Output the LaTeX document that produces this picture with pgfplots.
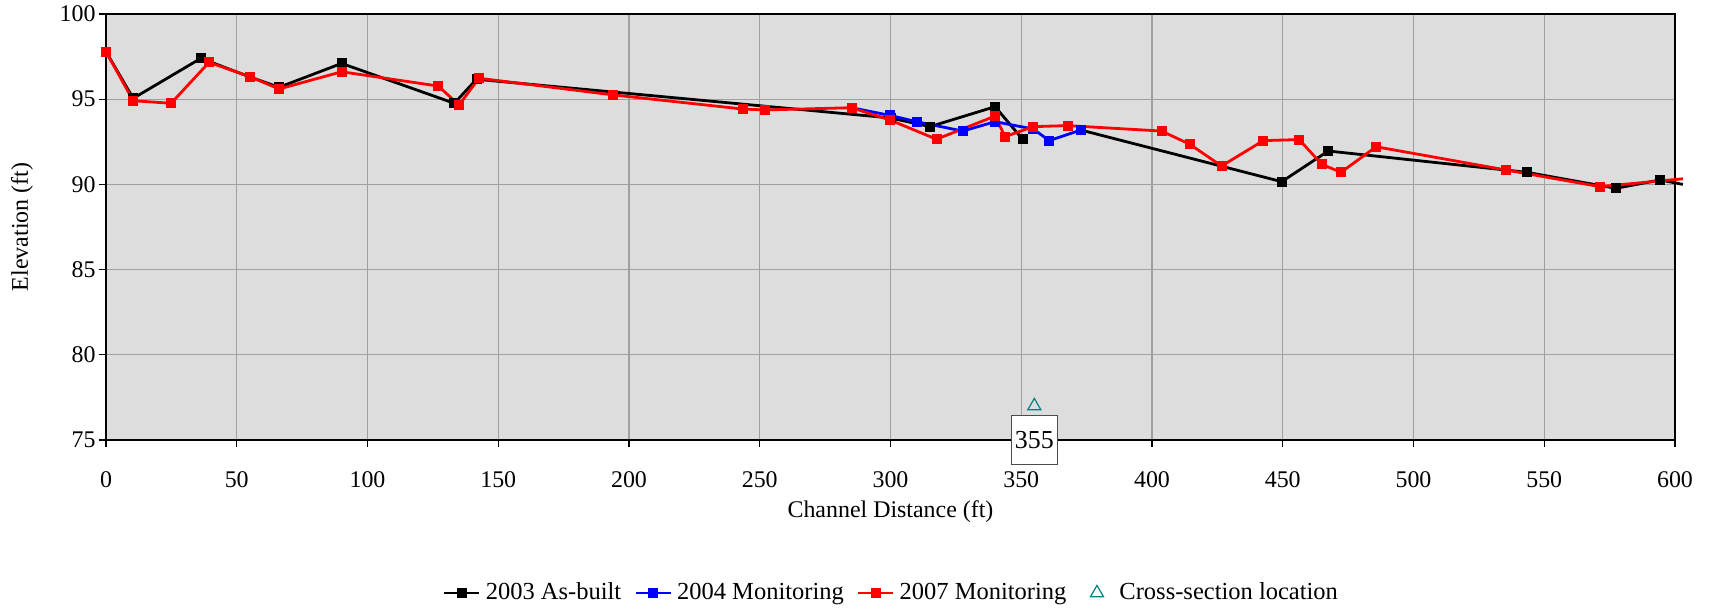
\documentclass[border=0pt]{standalone}
\usepackage{pgfplots}
\pgfplotsset{compat=1.18}
\usepackage{fontspec}
\setmainfont{Liberation Serif}
\definecolor{bggray}{RGB}{221,221,221}
\definecolor{gridgray}{RGB}{160,160,160}
\definecolor{tealc}{RGB}{0,128,128}
\begin{document}
\begin{tikzpicture}
\begin{axis}[
  at={(0,0)}, anchor=south west,
  scale only axis, width=784.5bp, height=213bp,
  xmin=0, xmax=600, ymin=75, ymax=100,
  xtick={0,50,...,600}, ytick={75,80,...,100},
  tick pos=left,
  grid=major, major grid style={gridgray, line width=0.6bp},
  axis background/.style={fill=bggray},
  tick align=outside, major tick length=3.5bp,
  tick style={black, line width=0.6bp},
  axis line style={black, line width=0.8bp},
  /pgf/number format/assume math mode=true,
  ticklabel style={font=\fontsize{12}{13}\selectfont},
  yticklabel style={inner sep=1.5bp},
  xticklabel style={inner sep=1.5bp, yshift=-10.5bp},
  xlabel={Channel Distance (ft)}, ylabel={Elevation (ft)},
  label style={font=\fontsize{12}{13}\selectfont},
  xlabel style={at={(axis description cs:0.5,0)}, anchor=center, yshift=-35.6bp},
  ylabel style={at={(axis description cs:-0.0535,0.5)}, anchor=center},
  clip=false,
  legend columns=4,
  legend style={draw=none, fill=none, at={(0.5,-0.359)}, anchor=center,
    font=\fontsize{12.3}{13}\selectfont, inner sep=0pt,
    nodes={inner xsep=0pt, inner ysep=1bp},
    /tikz/every odd column/.append style={column sep=2.5bp},
    /tikz/every even column/.append style={column sep=6.5bp}},
  legend image code/.code={
    \node[draw=none, fill=none, inner sep=0pt, minimum width=17.5bp, minimum height=1bp] at (8.75bp,0bp) {};
    \draw[#1, mark repeat=2, mark phase=2] plot coordinates {(0bp,0bp)(8.75bp,0bp)(17.5bp,0bp)};},
]
\addplot[black, line width=1.4bp, mark=square*, mark size=1.8bp, unbounded coords=jump]
  coordinates {(0,97.79)(10.4,95.05)(36.3,97.40)(55.1,96.30)(66.2,95.70)(90.1,97.10)(133.2,94.76)(141.7,96.17)(300,93.9)(315.1,93.39)(340,94.56)(350.5,92.65)(360,nan)(372.8,93.19)(449.6,90.16)(467.4,91.96)(543.3,90.71)(577.4,89.77)(594.3,90.26)};
\addlegendentry{2003 As-built}
\addplot[blue, line width=1.4bp, mark=square*, mark size=1.8bp]
  coordinates {(285.1,94.5)(299.8,94.05)(310,93.68)(327.6,93.13)(340,93.68)(354.6,93.25)(360.7,92.57)(372.8,93.19)};
\addlegendentry{2004 Monitoring}
\addplot[red, line width=1.4bp, mark=square*, mark size=1.8bp]
  coordinates {(0,97.79)(10.4,94.91)(24.9,94.76)(39.4,97.16)(55.1,96.32)(66.2,95.6)(90.1,96.61)(127.1,95.77)(135,94.66)(142.6,96.23)(194,95.25)(243.7,94.42)(252,94.37)(285.1,94.5)(299.8,93.78)(317.6,92.65)(340,94.01)(343.8,92.8)(354.6,93.39)(367.7,93.45)(403.7,93.13)(414.5,92.35)(426.6,91.08)(442.6,92.57)(456.3,92.63)(464.9,91.18)(472.3,90.71)(485.7,92.21)(535.2,90.85)(571.3,89.87)};
\addlegendentry{2007 Monitoring}
\addplot[tealc, only marks, mark=triangle, mark size=3.75bp, mark options={line width=0.6bp}]
  coordinates {(355,77.0)};
\addlegendentry{Cross-section location}
\addplot[black, line width=1.4bp, forget plot] coordinates {(594.3,90.26)(603,90.0)};
\addplot[red, line width=1.4bp, forget plot] coordinates {(571.3,89.87)(603,90.33)};
\node[draw=gray!60!black, fill=white, anchor=north, minimum width=22.8bp, minimum height=24.5bp,
  inner sep=0pt, font=\fontsize{13}{13}\selectfont] at (axis cs:355,76.47) {355};
\end{axis}
\useasboundingbox (-53bp,-85bp) rectangle (803.5bp,220bp);
\end{tikzpicture}
\end{document}
